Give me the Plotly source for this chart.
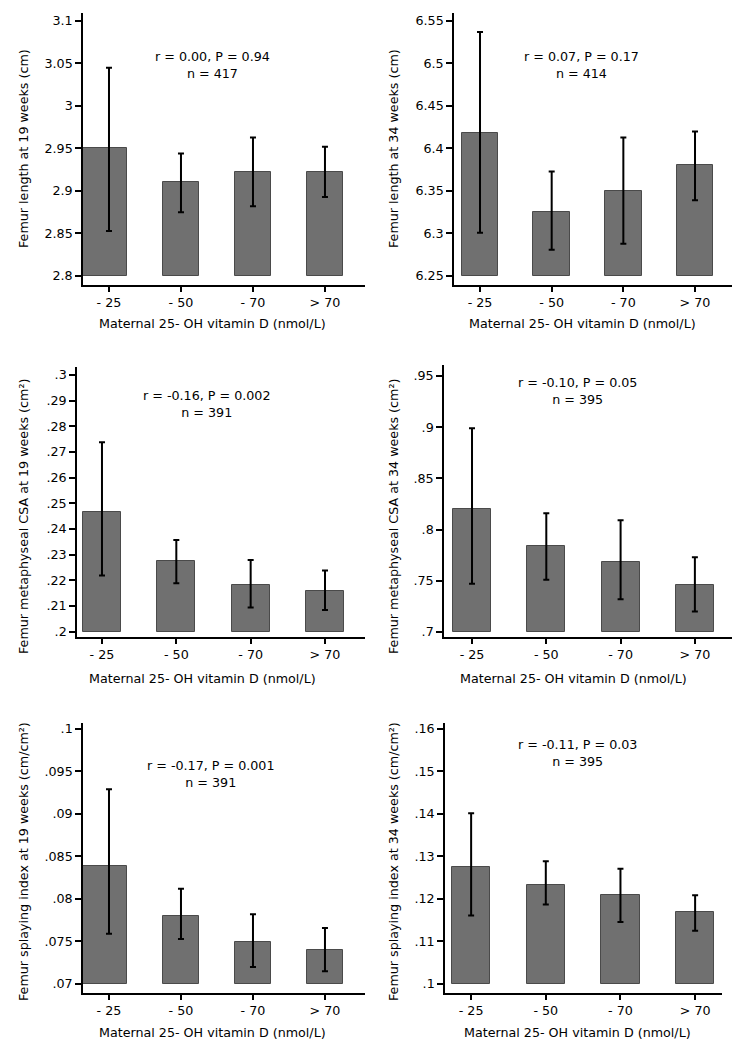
import plotly.graph_objects as go

# Maternal 25-OH vitamin D groups
categories = ["- 25", "- 50", "- 70", "> 70"]

# Femur length at 19 weeks (cm)
fl19_mean = [2.950, 2.911, 2.922, 2.922]
fl19_lo = [2.853, 2.875, 2.882, 2.893]
fl19_hi = [3.045, 2.944, 2.963, 2.952]

# Femur length at 34 weeks (cm)
fl34_mean = [6.418, 6.325, 6.350, 6.380]
fl34_lo = [6.301, 6.281, 6.288, 6.339]
fl34_hi = [6.537, 6.373, 6.413, 6.420]

# Femur metaphyseal CSA at 19 weeks (cm2)
csa19_mean = [0.2465, 0.2273, 0.2182, 0.2158]
csa19_lo = [0.2218, 0.2188, 0.2094, 0.2084]
csa19_hi = [0.2738, 0.2357, 0.2279, 0.2238]

# Femur metaphyseal CSA at 34 weeks (cm2)
csa34_mean = [0.820, 0.784, 0.768, 0.746]
csa34_lo = [0.747, 0.751, 0.732, 0.720]
csa34_hi = [0.899, 0.816, 0.809, 0.773]

# Femur splaying index at 19 weeks
spl19_mean = [0.0839, 0.0780, 0.0749, 0.0740]
spl19_lo = [0.0759, 0.0753, 0.0720, 0.0715]
spl19_hi = [0.0929, 0.0812, 0.0782, 0.0766]

# Femur splaying index at 34 weeks
spl34_mean = [0.1275, 0.1234, 0.1209, 0.1169]
spl34_lo = [0.1161, 0.1187, 0.1146, 0.1125]
spl34_hi = [0.1402, 0.1289, 0.1271, 0.1209]

# y tick values
ticks_fl19 = [2.8, 2.85, 2.9, 2.95, 3.0, 3.05, 3.1]
ticks_fl34 = [6.25, 6.3, 6.35, 6.4, 6.45, 6.5, 6.55]
ticks_csa19 = [0.2, 0.21, 0.22, 0.23, 0.24, 0.25, 0.26, 0.27, 0.28, 0.29, 0.3]
ticks_csa34 = [0.7, 0.75, 0.8, 0.85, 0.9, 0.95]
ticks_spl19 = [0.07, 0.075, 0.08, 0.085, 0.09, 0.095, 0.1]
ticks_spl34 = [0.1, 0.11, 0.12, 0.13, 0.14, 0.15, 0.16]

stats = ["r = 0.00, P = 0.94<br>n = 417",
         "r = 0.07, P = 0.17<br>n = 414",
         "r = -0.16, P = 0.002<br>n = 391",
         "r = -0.10, P = 0.05<br>n = 395",
         "r = -0.17, P = 0.001<br>n = 391",
         "r = -0.11, P = 0.03<br>n = 395"]

ytitles = ["Femur length at 19 weeks (cm)",
           "Femur length at 34 weeks (cm)",
           "Femur metaphyseal CSA at 19 weeks (cm²)",
           "Femur metaphyseal CSA at 34 weeks (cm²)",
           "Femur splaying index at 19 weeks (cm/cm²)",
           "Femur splaying index at 34 weeks (cm/cm²)"]

xtitle = "Maternal 25- OH vitamin D (nmol/L)"

W, H = 740, 1049
OFF = 8  # page body margin, subtract so pixel positions match the window
FONT = "DejaVu Sans"
FS = 12.7

# panel geometry in window pixels: left, right, top, bottom, y range, x range, annotation, titles
panels = [
    dict(mean=fl19_mean, lo=fl19_lo, hi=fl19_hi, ticks=ticks_fl19, base=2.8,
         L=83, R=365, T=13, B=285, yr=[2.7894, 3.1094], xr=[-0.361, 3.556],
         ann=(212, 65), xt=(212, 323), yt=(23, 149), wide_first=True),
    dict(mean=fl34_mean, lo=fl34_lo, hi=fl34_hi, ticks=ticks_fl34, base=6.25,
         L=454, R=734, T=13, B=285, yr=[6.2394, 6.5594], xr=[-0.363, 3.544],
         ann=(581, 65), xt=(582, 323), yt=(393, 149), wide_first=False),
    dict(mean=csa19_mean, lo=csa19_lo, hi=csa19_hi, ticks=ticks_csa19, base=0.2,
         L=77, R=365, T=367, B=637, yr=[0.19786, 0.3031], xr=[-0.336, 3.538],
         ann=(206, 404), xt=(203, 678), yt=(23, 517), wide_first=False),
    dict(mean=csa34_mean, lo=csa34_lo, hi=csa34_hi, ticks=ticks_csa34, base=0.7,
         L=444, R=735, T=365, B=637, yr=[0.6951, 0.9607], xr=[-0.377, 3.54],
         ann=(577, 391), xt=(573, 678), yt=(393, 517), wide_first=False),
    dict(mean=spl19_mean, lo=spl19_lo, hi=spl19_hi, ticks=ticks_spl19, base=0.07,
         L=83, R=365, T=723, B=993, yr=[0.06894, 0.1007], xr=[-0.361, 3.556],
         ann=(211, 774), xt=(212, 1032), yt=(23, 862), wide_first=True),
    dict(mean=spl34_mean, lo=spl34_lo, hi=spl34_hi, ticks=ticks_spl34, base=0.1,
         L=445, R=722, T=723, B=993, yr=[0.09788, 0.16141], xr=[-0.35, 3.36],
         ann=(577, 753), xt=(577, 1032), yt=(393, 862), wide_first=False),
]


def fmt(v):
    s = f"{v:g}"
    if s.startswith("0."):
        s = s[1:]
    return s


def px(x):
    return (x - OFF) / W


def py(y):
    return 1 - (y - OFF) / H


fig = go.Figure()
annotations = []
BW = 0.51

for i, p in enumerate(panels):
    n = "" if i == 0 else str(i + 1)
    xa, ya = "x" + n, "y" + n

    widths = [BW] * 4
    offsets = [-BW / 2] * 4
    if p["wide_first"]:
        offsets[0] = p["xr"][0]
        widths[0] = BW / 2 - p["xr"][0]

    fig.add_trace(go.Bar(
        x=categories, y=[m - p["base"] for m in p["mean"]], base=p["base"],
        width=widths, offset=offsets,
        marker=dict(color="#707070", line=dict(color="#4a4a4a", width=1)),
        xaxis=xa, yaxis=ya, showlegend=False, hoverinfo="skip"))

    fig.add_trace(go.Scatter(
        x=categories, y=p["mean"], mode="markers",
        marker=dict(size=1, opacity=0),
        error_y=dict(type="data", symmetric=False,
                     array=[h - m for h, m in zip(p["hi"], p["mean"])],
                     arrayminus=[m - l for m, l in zip(p["mean"], p["lo"])],
                     color="black", thickness=2, width=3),
        xaxis=xa, yaxis=ya, showlegend=False, hoverinfo="skip"))

    axis_common = dict(showline=True, linecolor="black", linewidth=1.5,
                       ticks="outside", tickcolor="black", tickwidth=1.5,
                       showgrid=False, zeroline=False, automargin=False,
                       tickfont=dict(family=FONT, size=FS, color="black"))
    fig.layout["xaxis" + n] = dict(
        domain=[px(p["L"]), px(p["R"])], anchor=ya, range=p["xr"],
        ticklen=5, type="category", **axis_common)
    fig.layout["yaxis" + n] = dict(
        domain=[py(p["B"]), py(p["T"])], anchor=xa, range=p["yr"],
        ticklen=6, tickvals=p["ticks"], ticktext=[fmt(t) for t in p["ticks"]],
        **axis_common)

    annotations.append(dict(
        x=px(p["ann"][0]), y=py(p["ann"][1]), xref="paper", yref="paper",
        text=stats[i], showarrow=False, xanchor="center", yanchor="middle",
        font=dict(family=FONT, size=FS, color="black")))
    annotations.append(dict(
        x=px(p["xt"][0]), y=py(p["xt"][1]), xref="paper", yref="paper",
        text=xtitle, showarrow=False, xanchor="center", yanchor="middle",
        font=dict(family=FONT, size=FS, color="black")))
    annotations.append(dict(
        x=px(p["yt"][0]), y=py(p["yt"][1]), xref="paper", yref="paper",
        text=ytitles[i], showarrow=False, xanchor="center", yanchor="middle",
        textangle=-90, font=dict(family=FONT, size=FS, color="black")))

fig.update_layout(
    width=W, height=H,
    margin=dict(l=0, r=0, t=0, b=0),
    paper_bgcolor="white", plot_bgcolor="white",
    annotations=annotations,
    bargap=0,
)

fig.write_html("out.html")
